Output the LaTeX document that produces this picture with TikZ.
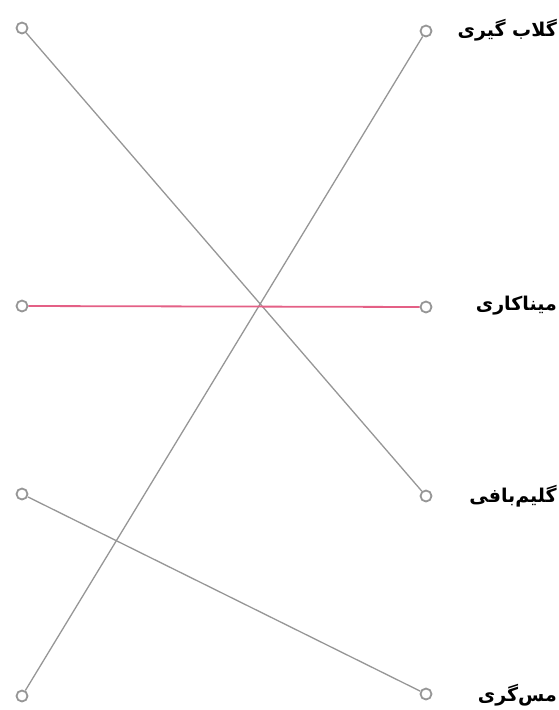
\documentclass[tikz,border=0pt]{standalone}
\usepackage{fontspec}
\newfontfamily\arabicfont[Script=Arabic]{DejaVu Sans}
\TeXXeTstate=1
\usetikzlibrary{positioning,backgrounds}

\definecolor{wirecol}{RGB}{150,150,150}
\definecolor{matchcol}{RGB}{228,96,134}

\begin{document}
\begin{tikzpicture}[
  x=1pt, y=-1pt,
  dot/.style={circle, draw=wirecol, line width=1.8pt, fill=white,
              minimum size=11pt, inner sep=0pt},
  lbl/.style={anchor=east, inner sep=0pt, font=\arabicfont\bfseries\fontsize{19}{22}\selectfont},
  wire/.style={draw=wirecol, line width=1.3pt},
  match/.style={draw=matchcol, line width=1.8pt}
]
  \useasboundingbox (0,0) rectangle (559,710);

  % left column
  \node[dot] (l1) at (22,28)  {};
  \node[dot] (l2) at (22,306) {};
  \node[dot] (l3) at (22,494) {};
  \node[dot] (l4) at (22,696) {};

  % right column
  \node[dot] (r1) at (426,31)  {};
  \node[dot] (r2) at (426,307) {};
  \node[dot] (r3) at (426,496) {};
  \node[dot] (r4) at (426,694) {};

  \node[lbl] (t1) at (557,30)  {\beginR گلاب گیری\endR};
  \node[lbl] (t2) at (557,306) {\beginR میناکاری\endR};
  \node[lbl] (t3) at (557,496) {\beginR گلیم‌بافی\endR};
  \node[lbl] (t4) at (557,695) {\beginR مس‌گری\endR};

  \begin{scope}[on background layer]
    \draw[wire]  (l1) -- (r3);
    \draw[wire]  (l3) -- (r4);
    \draw[wire]  (l4) -- (r1);
    \draw[match] (l2) -- (r2);
  \end{scope}
\end{tikzpicture}
\end{document}
